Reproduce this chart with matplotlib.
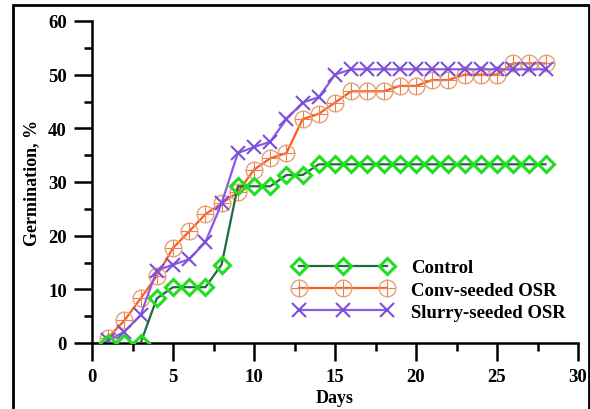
import matplotlib
matplotlib.use("Agg")
import matplotlib.pyplot as plt
from matplotlib.patches import Rectangle
from matplotlib.legend_handler import HandlerTuple
from matplotlib.ticker import MultipleLocator

days = list(range(1, 29))
control = [0, 0, 0, 8.3, 10.4, 10.4, 10.4, 14.6, 29.2, 29.2, 29.2, 31.3, 31.3, 33.3,
           33.3, 33.3, 33.3, 33.3, 33.3, 33.3, 33.3, 33.3, 33.3, 33.3, 33.3, 33.3, 33.3, 33.3]
conv = [1.0, 4.2, 8.3, 12.5, 17.7, 20.8, 24.0, 26.0, 28.1, 32.3, 34.4, 35.4, 41.7, 42.7,
        44.8, 46.9, 46.9, 46.9, 47.9, 47.9, 49.0, 49.0, 50.0, 50.0, 50.0, 52.1, 52.1, 52.1]
slurry = [0.5, 2.1, 5.2, 13.5, 14.6, 15.6, 18.8, 26.0, 35.4, 36.5, 37.5, 41.7, 44.8, 45.8,
          50.0, 51.0, 51.0, 51.0, 51.0, 51.0, 51.0, 51.0, 51.0, 51.0, 51.0, 51.0, 51.0, 51.0]
labels = ["Control", "Conv-seeded OSR", "Slurry-seeded OSR"]

plt.rcParams['font.family'] = ['Liberation Serif', 'DejaVu Serif']
plt.rcParams['font.weight'] = 'bold'

fig = plt.figure(figsize=(5.9, 4.1), dpi=100)
ax = fig.add_axes([92/590, 1-344/410, (578-92)/590, (344-22)/410])

l1, = ax.plot(days, control, color='#1e6b3c', lw=1.6, marker='D', ms=8.5,
              mfc='none', mec='#22dd22', mew=2.2, zorder=3)
l2, = ax.plot(days, conv, color='#ff5a1e', lw=1.6, marker='o', ms=12,
              mfc='none', mec='#e8a070', mew=1.0, zorder=2)
l2b, = ax.plot(days, conv, ls='none', marker='+', ms=12, mec='#e88050', mew=0.8, zorder=2)
l3, = ax.plot(days, slurry, color='#8a5ae6', lw=1.6, marker='x', ms=10,
              mec='#7a50d8', mew=1.5, zorder=2)

ax.set_xlim(0, 30)
ax.set_ylim(0, 60)
ax.xaxis.set_major_locator(MultipleLocator(5))
ax.xaxis.set_minor_locator(MultipleLocator(2.5))
ax.yaxis.set_major_locator(MultipleLocator(10))
ax.yaxis.set_minor_locator(MultipleLocator(5))
for s in ['top', 'right']:
    ax.spines[s].set_visible(False)
for s in ['left', 'bottom']:
    ax.spines[s].set_linewidth(1.8)
ax.tick_params(which='major', direction='out', length=13, width=1.8, labelsize=13.5, pad=5)
ax.tick_params(which='minor', direction='out', length=6, width=1.8)
for t in ax.get_xticklabels() + ax.get_yticklabels():
    t.set_fontweight('bold')

ax.set_xlabel("Days", fontsize=13, fontweight='bold', labelpad=3)
ax.set_ylabel("Germination, %", fontsize=13, fontweight='bold', labelpad=6)

leg = ax.legend([l1, (l2, l2b), l3], labels, loc='upper left',
                bbox_to_anchor=(0.414, 0.26), frameon=False, numpoints=3,
                borderpad=0, borderaxespad=0,
                handlelength=5.3, handletextpad=1.0, labelspacing=0.27,
                handler_map={tuple: HandlerTuple(ndivide=1, pad=0)},
                prop={'family': 'Liberation Serif', 'weight': 'bold', 'size': 13.5})

fig.patches.append(Rectangle((13/590, -0.05), (589-13)/590, 1.05-6/410,
                             transform=fig.transFigure, fill=False,
                             edgecolor='black', lw=2.0, zorder=10))

fig.savefig("out.png", dpi=100)
